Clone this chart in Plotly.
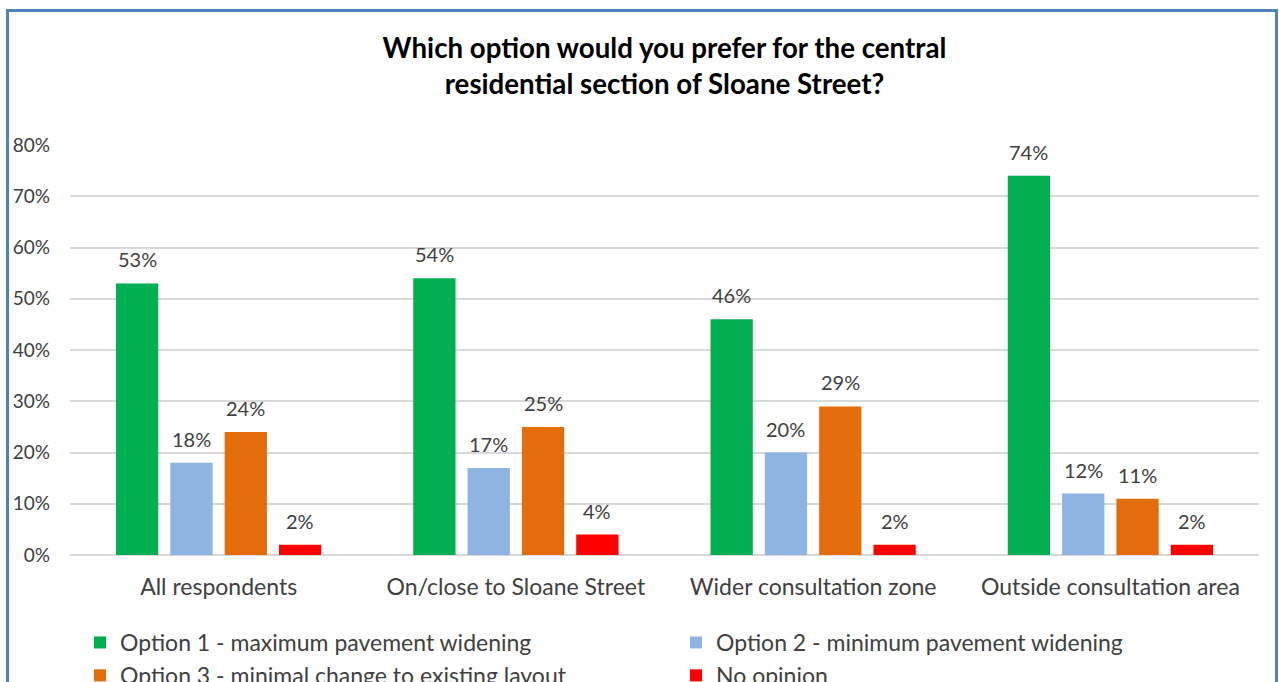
import plotly.graph_objects as go

# Survey responses by respondent location (share of respondents)
categories = ["All respondents", "On/close to Sloane Street",
              "Wider consultation zone", "Outside consultation area"]
series_names = ["Option 1 - maximum pavement widening",
                "Option 2 - minimum pavement widening",
                "Option 3 - minimal change to existing layout",
                "No opinion"]
option1 = [0.53, 0.54, 0.46, 0.74]
option2 = [0.18, 0.17, 0.20, 0.12]
option3 = [0.24, 0.25, 0.29, 0.11]
no_opinion = [0.02, 0.04, 0.02, 0.02]
y_ticks = [0, 0.1, 0.2, 0.3, 0.4, 0.5, 0.6, 0.7, 0.8]

colors = ["#00B050", "#8EB4E3", "#E46C0A", "#FF0000"]
FONT = "Lato"
W, H = 1279, 682
ML, MR, MT, MB = 70, 20, 145, 127
BARGAP, BARGROUPGAP = 0.269, 0.222

all_series = [option1, option2, option3, no_opinion]

fig = go.Figure()
for name, vals, col in zip(series_names, all_series, colors):
    fig.add_trace(go.Bar(
        name=name, x=categories, y=vals,
        marker=dict(color=col, line=dict(width=0)),
    ))

# value labels above each bar, positioned at the grouped-bar centres
n = len(all_series)
group_w = 1 - BARGAP
slot = group_w / n
for i, vals in enumerate(all_series):
    offset = -group_w / 2 + slot * (i + 0.5)
    for j, v in enumerate(vals):
        fig.add_annotation(
            x=j + offset, y=v, xref="x", yref="y",
            text=f"{round(v * 100)}%", showarrow=False,
            yanchor="middle", yshift=24,
            font=dict(family=FONT, size=20, color="#404040"),
        )

# paper-coordinate helpers for the outer frame
pw, ph = W - ML - MR, H - MT - MB
def px_x(p):
    return (p - ML) / pw
def px_y(p):
    return (H - MB - p) / ph

fig.add_shape(type="rect", xref="paper", yref="paper",
              x0=px_x(7.5), x1=px_x(1276.5), y0=px_y(700), y1=px_y(10.5),
              line=dict(color="#4F81BD", width=3), fillcolor="rgba(0,0,0,0)",
              layer="below")

fig.update_layout(
    width=W, height=H,
    margin=dict(l=ML, r=MR, t=MT, b=MB, autoexpand=False),
    paper_bgcolor="white", plot_bgcolor="white",
    barmode="group", bargap=BARGAP, bargroupgap=BARGROUPGAP,
    title=dict(
        text="Which option would you prefer for the central<br>residential section of Sloane Street?",
        x=0.5, xref="paper", xanchor="center",
        y=1 - 57.5 / H, yref="container", yanchor="middle",
        font=dict(family=FONT, size=27.7, color="#000000", weight="bold"),
    ),
    xaxis=dict(
        tickfont=dict(family=FONT, size=23, color="#404040"),
        ticklabelstandoff=16, showline=False, showgrid=False,
    ),
    yaxis=dict(
        range=[0, 0.8], tickvals=y_ticks, tickformat=".0%",
        tickfont=dict(family=FONT, size=19, color="#404040"),
        ticklabelstandoff=19,
        showgrid=True, gridcolor="#D9D9D9", gridwidth=2,
        zeroline=True, zerolinecolor="#D9D9D9", zerolinewidth=2,
        showline=False, ticks="", automargin=False,
    ),
    legend=dict(
        orientation="h", xref="container", yref="container",
        x=80 / W, xanchor="left",
        y=1 - 621 / H, yanchor="top",
        entrywidth=551, entrywidthmode="pixels",
        font=dict(family=FONT, size=23, color="#404040"),
        traceorder="normal", bgcolor="rgba(0,0,0,0)",
    ),
    showlegend=True,
)

fig.write_html("out.html")
